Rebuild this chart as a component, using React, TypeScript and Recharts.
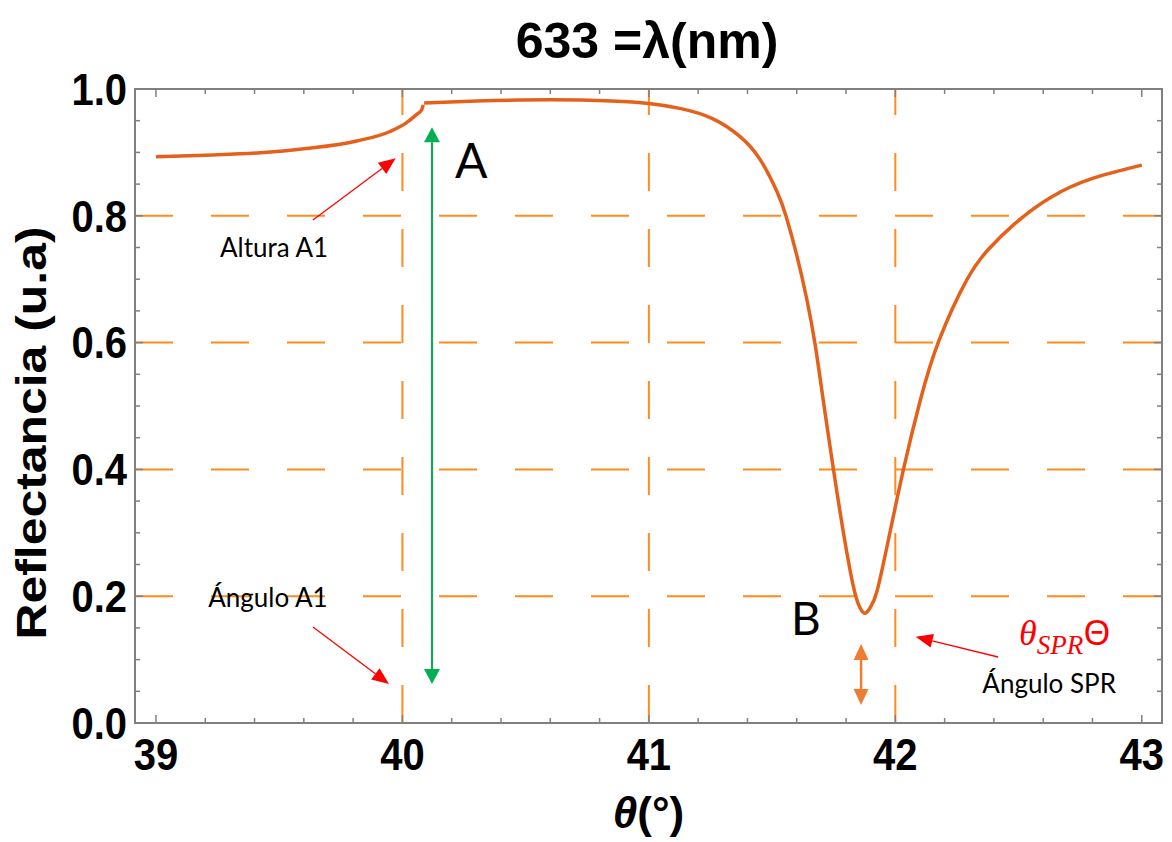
import React from 'react';
import {
  LineChart,
  Line,
  XAxis,
  YAxis,
  CartesianGrid,
  ReferenceArea,
  ReferenceLine,
  ReferenceDot,
} from 'recharts';

// Reflectance below the critical angle (first branch)
const thetaBelow = [39.0, 39.2, 39.41, 39.61, 39.815, 39.95, 40.017, 40.058, 40.078, 40.084];
const reflBelow = [0.893, 0.8955, 0.899, 0.906, 0.918, 0.933, 0.947, 0.96, 0.967, 0.975];

// Reflectance above the critical angle, including the SPR dip
const thetaAbove = [
  40.088, 40.3, 40.6, 40.85, 41.0, 41.13, 41.26, 41.37, 41.451, 41.52, 41.557, 41.6, 41.641,
  41.675, 41.709, 41.749, 41.79, 41.83, 41.855, 41.877, 41.9, 41.925, 41.966, 42.033, 42.1,
  42.175, 42.29, 42.38, 42.486, 42.63, 42.8, 43.0,
];
const reflAbove = [
  0.978, 0.981, 0.983, 0.981, 0.977, 0.969, 0.953, 0.925, 0.889, 0.838, 0.799, 0.738, 0.668,
  0.596, 0.505, 0.4, 0.299, 0.215, 0.183, 0.173, 0.183, 0.207, 0.278, 0.4, 0.507,
  0.601, 0.699, 0.748, 0.788, 0.829, 0.859, 0.88,
];

const xTicks = [39, 40, 41, 42, 43];
const xMinorTicks = [
  39.2, 39.4, 39.6, 39.8, 40.2, 40.4, 40.6, 40.8, 41.2, 41.4, 41.6, 41.8, 42.2, 42.4, 42.6,
  42.8,
];
const yTicks = [0, 0.2, 0.4, 0.6, 0.8, 1.0];
const yMinorTicks = [
  0.05, 0.1, 0.15, 0.25, 0.3, 0.35, 0.45, 0.5, 0.55, 0.65, 0.7, 0.75, 0.85, 0.9, 0.95,
];
const gridTheta = [40, 41, 42];
const gridRefl = [0.2, 0.4, 0.6, 0.8];
const thetaDomain: [number, number] = [38.915, 43.082];
const reflDomain: [number, number] = [0, 1];

const belowData = thetaBelow.map((theta, i) => ({ theta, refl: reflBelow[i] }));
const aboveData = thetaAbove.map((theta, i) => ({ theta, refl: reflAbove[i] }));

const CURVE = '#E4611B';
const GRID = '#FF8C1F';
const FRAME = '#808080';
const SANS = '"Liberation Sans", Arial, sans-serif';
const NOTE_FONT = 'Lato, "Open Sans", sans-serif';
const MAJOR_LEN = 8;
const MINOR_LEN = 5;

const XTick = (p: any) => (
  <g transform={`translate(${p.x},${p.y + 47}) scale(1,1.1)`}>
    <text x={0} y={0} textAnchor="middle" fontFamily={SANS} fontWeight="bold" fontSize={40} fill="#000">
      {p.payload.value}
    </text>
  </g>
);

const YTick = (p: any) => (
  <g transform={`translate(${p.x - 8},${p.y}) scale(1,1.1)`}>
    <text x={0} y={14.3} textAnchor="end" fontFamily={SANS} fontWeight="bold" fontSize={40} fill="#000">
      {Number(p.payload.value).toFixed(1)}
    </text>
  </g>
);

// Short inward tick mark drawn from a point on the frame
const tickMark = (dx: number, dy: number) => (p: any) => (
  <line x1={p.cx} y1={p.cy} x2={p.cx + dx} y2={p.cy + dy} stroke={FRAME} strokeWidth={1.5} />
);

// Straight arrow with a filled head at the end (and optionally at the start)
function arrow(color: string, width: number, headLen: number, headHalf: number, both = false) {
  return (p: any) => {
    const { x1, y1, x2, y2 } = p;
    const dx = x2 - x1;
    const dy = y2 - y1;
    const len = Math.hypot(dx, dy) || 1;
    const ux = dx / len;
    const uy = dy / len;
    const nx = -uy;
    const ny = ux;
    const head = (tx: number, ty: number, sx: number, sy: number) =>
      `${tx},${ty} ${tx - sx * headLen + nx * headHalf},${ty - sy * headLen + ny * headHalf} ${
        tx - sx * headLen - nx * headHalf
      },${ty - sy * headLen - ny * headHalf}`;
    const sx = both ? x1 + ux * headLen : x1;
    const sy = both ? y1 + uy * headLen : y1;
    return (
      <g>
        <line x1={sx} y1={sy} x2={x2 - ux * headLen} y2={y2 - uy * headLen} stroke={color} strokeWidth={width} />
        <polygon points={head(x2, y2, ux, uy)} fill={color} />
        {both && <polygon points={head(x1, y1, -ux, -uy)} fill={color} />}
      </g>
    );
  };
}

const note = (text: string, size: number, color = '#000') => (p: any) => (
  <text x={p.cx} y={p.cy} fontFamily={NOTE_FONT} fontSize={size} fill={color}>
    {text}
  </text>
);

const sprLabel = (p: any) => (
  <text x={p.cx} y={p.cy} fill="#FF0000">
    <tspan fontFamily='"Liberation Serif", serif' fontStyle="italic" fontSize={36}>
      θ
    </tspan>
    <tspan fontFamily='"Liberation Serif", serif' fontStyle="italic" fontSize={27} dy={9}>
      SPR
    </tspan>
    <tspan fontFamily='"Noto Sans", sans-serif' fontSize={35} dy={-9}>
      Θ
    </tspan>
  </text>
);

const xLabel = (p: any) => {
  const vb = p.viewBox;
  return (
    <text x={vb.x + vb.width / 2} y={vb.y + 105} textAnchor="middle" fontFamily={SANS} fontWeight="bold" fontSize={44} fill="#000">
      <tspan fontStyle="italic">θ</tspan>
      <tspan>(°)</tspan>
    </text>
  );
};

const yLabel = (p: any) => {
  const vb = p.viewBox;
  const cx = vb.x + 31;
  const cy = vb.y + vb.height / 2 + 27;
  return (
    <text
      x={cx}
      y={cy}
      transform={`rotate(-90, ${cx}, ${cy})`}
      textAnchor="middle"
      dominantBaseline="central"
      fontFamily={SANS}
      fontWeight="bold"
      fontSize={42}
      textLength={413}
      lengthAdjust="spacingAndGlyphs"
      fill="#000"
    >
      Reflectancia (u.a)
    </text>
  );
};

export default function App() {
  return (
    <div style={{ position: 'absolute', left: 0, top: 0, width: 1172, height: 842, background: '#fff' }}>
      <svg width={1172} height={80} style={{ position: 'absolute', left: 0, top: 0 }}>
        <text x={647} y={58} textAnchor="middle" fontFamily={SANS} fontWeight="bold" fontSize={50} fill="#000">
          633 =λ(nm)
        </text>
      </svg>
      <LineChart width={1172} height={842} margin={{ top: 89, right: 10, bottom: 0, left: 0 }}>
        <CartesianGrid
          horizontalValues={gridRefl}
          verticalValues={gridTheta}
          stroke={GRID}
          strokeWidth={2}
          strokeDasharray="38 38"
          vertical={(p: any) => (
            <line
              key={`v-${p.index}`}
              x1={p.x1}
              y1={p.y2}
              x2={p.x2}
              y2={p.y1}
              stroke={GRID}
              strokeWidth={2}
              strokeDasharray="38 38"
            />
          )}
        />
        <XAxis
          dataKey="theta"
          type="number"
          domain={thetaDomain}
          allowDataOverflow
          ticks={xTicks}
          interval={0}
          height={119}
          tickSize={0}
          tickMargin={0}
          tickLine={false}
          axisLine={false}
          tick={XTick}
          label={xLabel}
        />
        <YAxis
          type="number"
          domain={reflDomain}
          allowDataOverflow
          ticks={yTicks}
          interval={0}
          width={135}
          tickSize={0}
          tickMargin={0}
          tickLine={false}
          axisLine={false}
          tick={YTick}
          label={yLabel}
        />

        <ReferenceArea
          x1={thetaDomain[0]}
          x2={thetaDomain[1]}
          y1={reflDomain[0]}
          y2={reflDomain[1]}
          fill="none"
          fillOpacity={0}
          stroke={FRAME}
          strokeWidth={2}
          ifOverflow="visible"
        />

        {/* inward tick marks on all four sides of the frame */}
        {xTicks.map((t) => (
          <ReferenceDot key={`xb${t}`} x={t} y={reflDomain[0]} ifOverflow="visible" shape={tickMark(0, -MAJOR_LEN)} />
        ))}
        {xTicks.map((t) => (
          <ReferenceDot key={`xt${t}`} x={t} y={reflDomain[1]} ifOverflow="visible" shape={tickMark(0, MAJOR_LEN)} />
        ))}
        {xMinorTicks.map((t) => (
          <ReferenceDot key={`xbm${t}`} x={t} y={reflDomain[0]} ifOverflow="visible" shape={tickMark(0, -MINOR_LEN)} />
        ))}
        {xMinorTicks.map((t) => (
          <ReferenceDot key={`xtm${t}`} x={t} y={reflDomain[1]} ifOverflow="visible" shape={tickMark(0, MINOR_LEN)} />
        ))}
        {yTicks.map((v) => (
          <ReferenceDot key={`yl${v}`} x={thetaDomain[0]} y={v} ifOverflow="visible" shape={tickMark(MAJOR_LEN, 0)} />
        ))}
        {yTicks.map((v) => (
          <ReferenceDot key={`yr${v}`} x={thetaDomain[1]} y={v} ifOverflow="visible" shape={tickMark(-MAJOR_LEN, 0)} />
        ))}
        {yMinorTicks.map((v) => (
          <ReferenceDot key={`ylm${v}`} x={thetaDomain[0]} y={v} ifOverflow="visible" shape={tickMark(MINOR_LEN, 0)} />
        ))}
        {yMinorTicks.map((v) => (
          <ReferenceDot key={`yrm${v}`} x={thetaDomain[1]} y={v} ifOverflow="visible" shape={tickMark(-MINOR_LEN, 0)} />
        ))}

        <Line data={belowData} dataKey="refl" type="monotone" stroke={CURVE} strokeWidth={3.5} dot={false} isAnimationActive={false} />
        <Line data={aboveData} dataKey="refl" type="natural" stroke={CURVE} strokeWidth={3.5} dot={false} isAnimationActive={false} />

        {/* height of the critical-angle feature */}
        <ReferenceLine segment={[{ x: 40.12, y: 0.0615 }, { x: 40.12, y: 0.9396 }]} ifOverflow="visible" shape={arrow('#00B050', 2, 15, 8, true)} />
        {/* depth below the SPR minimum */}
        <ReferenceLine segment={[{ x: 41.861, y: 0.0284 }, { x: 41.861, y: 0.1246 }]} ifOverflow="visible" shape={arrow('#ED7D31', 2.5, 16, 7.5, true)} />
        {/* pointers */}
        <ReferenceLine segment={[{ x: 39.637, y: 0.7934 }, { x: 39.9727, y: 0.8907 }]} ifOverflow="visible" shape={arrow('#FF0000', 1.3, 17, 7)} />
        <ReferenceLine segment={[{ x: 39.637, y: 0.1514 }, { x: 39.9455, y: 0.0615 }]} ifOverflow="visible" shape={arrow('#FF0000', 1.3, 17, 7)} />
        <ReferenceLine segment={[{ x: 42.4168, y: 0.1041 }, { x: 42.0828, y: 0.1361 }]} ifOverflow="visible" shape={arrow('#FF0000', 1.3, 17, 7)} />

        <ReferenceDot x={40.213} y={0.8596} ifOverflow="visible" shape={note('A', 48)} />
        <ReferenceDot x={41.577} y={0.1388} ifOverflow="visible" shape={note('B', 46)} />
        <ReferenceDot x={39.2597} y={0.735} ifOverflow="visible" shape={note('Altura A1', 26)} />
        <ReferenceDot x={39.2122} y={0.1834} ifOverflow="visible" shape={note('Ángulo A1', 26)} />
        <ReferenceDot x={42.353} y={0.0468} ifOverflow="visible" shape={note('Ángulo SPR', 26)} />
        <ReferenceDot x={42.502} y={0.123} ifOverflow="visible" shape={sprLabel} />
      </LineChart>
    </div>
  );
}
